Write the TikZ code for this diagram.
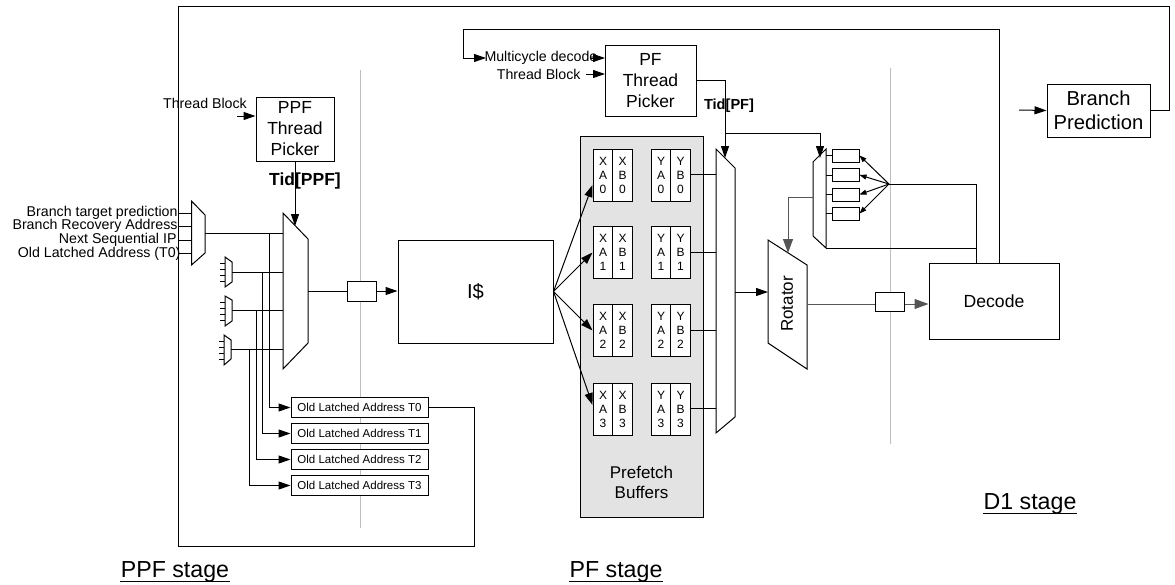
\documentclass[tikz,border=0pt]{standalone}
\usepackage{fontspec}
\setmainfont{Liberation Sans}
\usepackage{xcolor}
\usetikzlibrary{arrows.meta,calc}
\definecolor{sepgray}{RGB}{190,190,190}
\definecolor{wiregray}{RGB}{85,85,85}
\definecolor{bufgray}{RGB}{227,227,227}

\begin{document}
\begin{tikzpicture}[
  x=1pt, y=-1pt,
  line width=1pt,
  box/.style={draw, rectangle, fill=white, inner sep=0pt, align=center, line width=1pt},
  picker/.style={box, font=\fontsize{17.5}{21}\selectfont},
  bigtxt/.style={box, font=\fontsize{20.2}{24}\selectfont},
  oldbox/.style={box, minimum width=137pt, minimum height=20pt, font=\fontsize{11.5}{13}\selectfont},
  cell/.style={box, minimum width=20pt, minimum height=52pt, font=\fontsize{12}{14}\selectfont},
  reg/.style={box, minimum width=27pt, minimum height=13pt},
  lbl/.style={inner sep=0pt, font=\fontsize{14.2}{16}\selectfont},
  tid/.style={inner sep=0pt, font=\bfseries\fontsize{17.5}{20}\selectfont},
  stage/.style={inner sep=0pt, anchor=base, text depth=4pt, font=\fontsize{23.2}{27}\selectfont},
  >={Triangle[length=12pt,width=8pt]},
  arrline/.style={->},
  smallarr/.style={-{Triangle[length=7pt,width=5pt]}},
  grayline/.style={wiregray},
  grayarr/.style={wiregray, -{Triangle[length=14pt,width=10pt]}},
]
\useasboundingbox (0,0) rectangle (1175,584);

% ============ stage separators ============
\coordinate (septopA) at (360,70);
\coordinate (sepbotA) at (360,528);
\coordinate (septopB) at (890,68);
\coordinate (sepbotB) at (890,444);
\draw[sepgray] (septopA) -- (sepbotA);
\draw[sepgray] (septopB) -- (sepbotB);

% ============ PPF thread picker ============
\node[picker, minimum width=78pt, minimum height=64pt] (ppfpicker) at (295,129) {PPF\\Thread\\Picker};
\node[lbl] (ppfblock) at (205,103) {Thread Block};
\coordinate (ppfblockin) at (237,116);
\node[tid] (tidppf) at (305,181) {Tid[PPF]};

% ============ input mux ============
\draw (191.5,201) -- (205,215) -- (205,253) -- (191.5,265) -- cycle;
\node[lbl, anchor=east] (inA) at (178,213) {Branch target prediction};
\node[lbl, anchor=east] (inB) at (178,226) {Branch Recovery Address};
\node[lbl, anchor=east] (inC) at (177,240) {Next Sequential IP};
\node[lbl, anchor=east] (inD) at (181,253.5) {Old Latched Address (T0)};
\coordinate (pinA) at (191.5,213);
\coordinate (pinB) at (191.5,226);
\coordinate (pinC) at (191.5,240);
\coordinate (pinD) at (191.5,253);
\coordinate (inmuxout) at (205,233);

% ============ tiny muxes ============
\draw (225,257) -- (232,262) -- (232,282) -- (225,287) -- cycle;
\draw (220,263) -- (225,263) (220,269) -- (225,269) (220,275) -- (225,275) (220,281) -- (225,281);
\draw (225,296) -- (232,300) -- (232,321) -- (225,326) -- cycle;
\draw (220,302) -- (225,302) (220,308) -- (225,308) (220,314) -- (225,314) (220,320) -- (225,320);
\draw (224,335) -- (231,340) -- (231,359) -- (224,365) -- cycle;
\draw (219,341) -- (224,341) (219,347) -- (224,347) (219,353) -- (224,353) (219,359) -- (224,359);
\coordinate (tinyA) at (232,272);
\coordinate (tinyB) at (232,310);
\coordinate (tinyC) at (231,349);

% ============ PPF mux ============
\draw (283,213) -- (308,239) -- (308,343) -- (283,369) -- cycle;
\coordinate (ppfsel) at (295,226);
\coordinate (ppfout) at (308,291);
\coordinate (ppfinA) at (283,233);
\coordinate (ppfinB) at (283,272);
\coordinate (ppfinC) at (283,310);
\coordinate (ppfinD) at (283,349);

% ============ old latched addresses ============
\node[oldbox] (oldT0) at (359.5,407.5) {Old Latched Address T0};
\node[oldbox] (oldT1) at (359.5,433.5) {Old Latched Address T1};
\node[oldbox] (oldT2) at (359.5,459.5) {Old Latched Address T2};
\node[oldbox] (oldT3) at (359.5,485.5) {Old Latched Address T3};
\coordinate (busA) at (269,233);
\coordinate (busB) at (262,272);
\coordinate (busC) at (256,310);
\coordinate (busD) at (249,349);

% ============ I$ ============
\node[reg, minimum width=29pt, minimum height=20pt] (ppfreg) at (361.5,291) {};
\node[bigtxt, minimum width=155pt, minimum height=103pt] (icache) at (475.5,291.5) {I\$};

% ============ prefetch buffers ============
\node[draw, fill=bufgray, minimum width=123pt, minimum height=381pt, inner sep=0pt] (prefetch) at (641.5,326.5) {};
\node[inner sep=0pt, align=center, font=\fontsize{17}{20}\selectfont] (prefetchlbl) at (641.5,482) {Prefetch\\Buffers};

\node[cell] (xa0) at (603,175) {X\\A\\0};
\node[cell] (xb0) at (622.5,175) {X\\B\\0};
\node[cell] (ya0) at (661,175) {Y\\A\\0};
\node[cell] (yb0) at (680.5,175) {Y\\B\\0};

\node[cell] (xa1) at (603,252.5) {X\\A\\1};
\node[cell] (xb1) at (622.5,252.5) {X\\B\\1};
\node[cell] (ya1) at (661,252.5) {Y\\A\\1};
\node[cell] (yb1) at (680.5,252.5) {Y\\B\\1};

\node[cell] (xa2) at (603,330.5) {X\\A\\2};
\node[cell] (xb2) at (622.5,330.5) {X\\B\\2};
\node[cell] (ya2) at (661,330.5) {Y\\A\\2};
\node[cell] (yb2) at (680.5,330.5) {Y\\B\\2};

\node[cell] (xa3) at (603,409) {X\\A\\3};
\node[cell] (xb3) at (622.5,409) {X\\B\\3};
\node[cell] (ya3) at (661,409) {Y\\A\\3};
\node[cell] (yb3) at (680.5,409) {Y\\B\\3};

% ============ PF thread picker ============
\node[picker, minimum width=91pt, minimum height=71pt] (pfpicker) at (650.5,80.5) {PF\\Thread\\Picker};
\node[lbl, anchor=west] (multi) at (484,58) {Multicycle decode};
\node[lbl, anchor=east] (pfblock) at (581,74) {Thread Block};
\coordinate (multiin) at (590,58);
\coordinate (multitip) at (486,58);
\coordinate (pfblockin) at (586,74);
\coordinate (pfblockout) at (605,74);
\coordinate (multiout) at (605,58);
\node[tid, font=\bfseries\fontsize{14.6}{17}\selectfont] (tidpf) at (729,106) {Tid[PF]};

% ============ PF mux ============
\draw (716,149) -- (735,168) -- (735,417) -- (716,433) -- cycle;
\coordinate (pfsel) at (725,158);
\coordinate (tidsplit) at (725,133);
\coordinate (pfout) at (735,292);
\coordinate (pfinA) at (716,174);
\coordinate (pfinB) at (716,252.5);
\coordinate (pfinC) at (716,330.5);
\coordinate (pfinD) at (716,408);

% ============ rotator ============
\draw (768,240) -- (807,265) -- (807,369) -- (768,343) -- cycle;
\node[rotate=90, inner sep=0pt, font=\fontsize{17}{20}\selectfont] (rotatorlbl) at (787,304) {Rotator};
\coordinate (rotin) at (768,292);
\coordinate (rotsel) at (788,253);
\coordinate (rotout) at (807,304);

% ============ way registers and their mux ============
\draw (826,149) -- (826,248) -- (813,236) -- (813,162) -- cycle;
\node[reg] (wayA) at (845.5,155.5) {};
\node[reg] (wayB) at (845.5,175) {};
\node[reg] (wayC) at (845.5,194.5) {};
\node[reg] (wayD) at (845.5,213.5) {};
\coordinate (waymuxA) at (826,155.5);
\coordinate (waymuxB) at (826,175);
\coordinate (waymuxC) at (826,194.5);
\coordinate (waymuxD) at (826,213.5);
\coordinate (waysel) at (820,158);
\coordinate (wayout) at (813,197);
\coordinate (waybot) at (826,248);
\coordinate (wayfan) at (889,184);

% ============ decode ============
\node[reg, minimum width=29pt, minimum height=19pt] (dreg) at (889.5,301.5) {};
\node[box, minimum width=130pt, minimum height=76pt, font=\fontsize{17.6}{20}\selectfont] (decode) at (994,301) {Decode};
\coordinate (decfb) at (976,263);
\coordinate (decback) at (999,263);

% ============ branch prediction ============
\node[bigtxt, minimum width=103pt, minimum height=53pt] (bpred) at (1098.5,110.5) {Branch\\Prediction};
\coordinate (bpredin) at (1019,110);
\coordinate (frametopR) at (1169.5,6.5);
\coordinate (frametopL) at (178,6.5);
\coordinate (framebotL) at (178,546);
\coordinate (framebotR) at (474,546);

% ============ stage names ============
\node[stage] (ppfstage) at (175,577) {PPF stage};
\node[stage] (pfstage) at (616,577) {PF stage};
\node[stage] (dstage) at (1030,509) {D1 stage};
\draw (ppfstage.south west) -- (ppfstage.south east);
\draw (pfstage.south west) -- (pfstage.south east);
\draw (dstage.south west) -- (dstage.south east);

% ===================== ARROWS =====================

% thread pickers
\draw[arrline] (ppfblockin) -- (ppfpicker.west |- ppfblockin);
\draw[arrline] (ppfpicker.south) -- (ppfsel);
\draw[arrline] (pfblockin) -- (pfblockout);
\draw[arrline] (multiin) -- (multiout);
\draw (pfpicker.east) -| (tidsplit);
\draw[arrline] (tidsplit) -- (pfsel);
\draw[arrline] (tidsplit) -| (waysel);

% input mux
\draw (inA.east -| frametopL) -- (pinA);
\draw (inB.east -| frametopL) -- (pinB);
\draw (pinC -| frametopL) -- (pinC);
\draw (pinD -| frametopL) -- (pinD);
\draw (inmuxout) -- (ppfinA);
\draw (tinyA) -- (ppfinB);
\draw (tinyB) -- (ppfinC);
\draw (tinyC) -- (ppfinD);

% latched address buses
\draw[arrline] (busA) |- (oldT0.west);
\draw[arrline] (busB) |- (oldT1.west);
\draw[arrline] (busC) |- (oldT2.west);
\draw[arrline] (busD) |- (oldT3.west);

% PPF mux to I$
\draw (ppfout) -- (ppfreg.west);
\draw[arrline] (ppfreg.east) -- (icache.west |- ppfreg.east);

% I$ fan out
\draw[arrline] (icache.east) -- ($(xa0.west)+(0,10)$);
\draw[arrline] (icache.east) -- (xa1.west);
\draw[arrline] (icache.east) -- (xa2.west);
\draw[arrline] (icache.east) -- ($(xa3.west)+(0,-4)$);

% buffers to PF mux
\draw (yb0.east |- pfinA) -- (pfinA);
\draw (yb1.east) -- (pfinB);
\draw (yb2.east) -- (pfinC);
\draw (yb3.east |- pfinD) -- (pfinD);
\draw[arrline] (pfout) -- (rotin);

% way registers
\draw (waymuxA) -- (wayA.west);
\draw (waymuxB) -- (wayB.west);
\draw (waymuxC) -- (wayC.west);
\draw (waymuxD) -- (wayD.west);
\draw[smallarr] (wayfan) -- (wayA.east);
\draw[smallarr] (wayfan) -- (wayB.east);
\draw[smallarr] (wayfan) -- (wayC.east);
\draw[smallarr] (wayfan) -- (wayD.east);
\draw (decfb) |- (wayfan);
\draw (waybot) -- (waybot -| decfb);
\draw[grayarr] (wayout) -| (rotsel);

% rotator to decode
\draw[grayline] (rotout) -- (dreg.west |- rotout);
\draw[grayarr] (dreg.east |- rotout) -- (decode.west |- rotout);

% multicycle feedback from decode
\draw[arrline] (decback) |- (463,29) |- (multitip);

% branch prediction and frame
\draw[arrline] (bpredin) -- (bpred.west);
\draw (bpred.east) -| (frametopR) -- (frametopL) -- (framebotL) -- (framebotR) |- (oldT0.east);

\end{tikzpicture}
\end{document}
